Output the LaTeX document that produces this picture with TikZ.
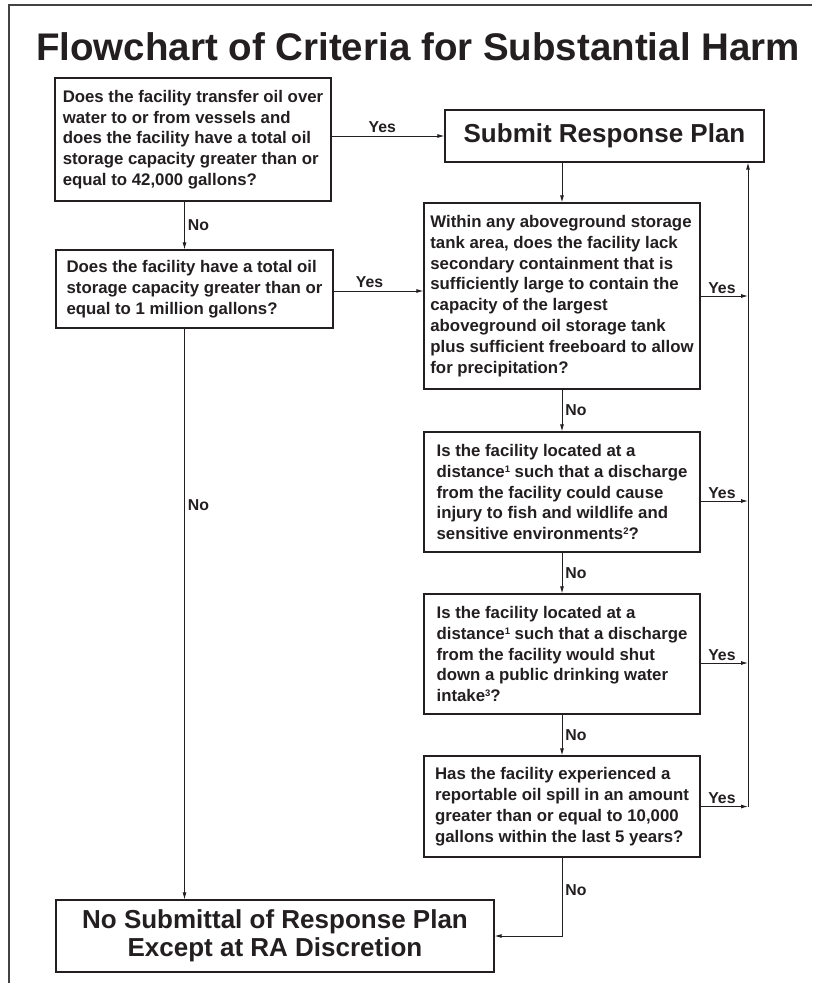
\documentclass[tikz,border=0pt]{standalone}
\usepackage{fontspec}
\setmainfont{Liberation Sans}
\usetikzlibrary{arrows.meta,calc}
\definecolor{ink}{HTML}{231F20}
\newcommand{\fnsup}[1]{\raisebox{5.2pt}{\fontsize{9.5}{10}\selectfont #1}}
\begin{document}
\begin{tikzpicture}[x=1pt,y=-1pt, color=ink,
  box/.style={draw=ink, line width=1.2pt, inner sep=0pt, align=left, text=ink,
    font=\fontsize{16.8}{20.8}\selectfont\bfseries},
  big/.style={draw=ink, line width=1.2pt, inner sep=0pt, align=center, text=ink,
    font=\fontsize{26}{28}\selectfont\bfseries},
  arr/.style={draw=ink, line width=0.9pt, -{Latex[length=7pt,width=4pt]}},
  lab/.style={font=\fontsize{15.8}{18}\selectfont\bfseries, inner sep=0pt, text=ink},
]
\useasboundingbox (0,0) rectangle (812,985);
\fill[white] (0,0) rectangle (812,985);
\draw[line width=1.5pt, draw=ink!85] (812,5) -- (9,5) -- (9,983);

\node[font=\fontsize{38.5}{40}\selectfont\bfseries, text=ink] (title) at (418,47) {Flowchart of Criteria for Substantial Harm};

\node[box, minimum width=276pt, minimum height=123pt] (q1) at (193,139.5)
 {Does the facility transfer oil over\\water to or from vessels and\\does the facility have a total oil\\storage capacity greater than or\\equal to 42,000 gallons?};
\node[box, minimum width=277pt, minimum height=78pt] (q2) at (194.5,289)
 {Does the facility have a total oil\\storage capacity greater than or\\equal to 1 million gallons?};
\node[big, minimum width=319pt, minimum height=52pt] (submit) at (604.5,136) {Submit Response Plan};
\node[box, minimum width=276pt, minimum height=186pt] (q3) at (562,296)
 {Within any aboveground storage\\tank area, does the facility lack\\secondary containment that is\\sufficiently large to contain the\\capacity of the largest\\aboveground oil storage tank\\plus sufficient freeboard to allow\\for precipitation?};
\node[box, minimum width=276pt, minimum height=120pt] (q4) at (562,492)
 {Is the facility located at a\\distance\fnsup{1} such that a discharge\\from the facility could cause\\injury to fish and wildlife and\\sensitive environments\fnsup{2}?};
\node[box, minimum width=276pt, minimum height=120pt] (q5) at (562,654)
 {Is the facility located at a\\distance\fnsup{1} such that a discharge\\from the facility would shut\\down a public drinking water\\intake\fnsup{3}?};
\node[box, minimum width=276pt, minimum height=101pt] (q6) at (562,806.5)
 {Has the facility experienced a\\reportable oil spill in an amount\\greater than or equal to 10,000\\gallons within the last 5 years?};
\node[big, minimum width=438pt, minimum height=72pt] (final) at (275,936)
 {No Submittal of Response Plan\\Except at RA Discretion};

\coordinate (lx) at (184.5,0);
\coordinate (rx) at (748,0);
\coordinate (y2) at (0,291);

\draw[arr] (q1.east |- submit.west) -- node[lab, pos=0.45, above=3pt] {Yes} (submit.west);
\draw[arr] (q1.south -| lx) -- node[lab, midway, right=3pt] {No} (q2.north -| lx);
\draw[arr] (q2.east |- y2) -- node[lab, pos=0.4, above=3pt] {Yes} (q3.west |- y2);
\draw[arr] (q2.south -| lx) -- node[lab, pos=0.31, right=3pt] {No} (final.north -| lx);
\draw[arr] (submit.south -| q3.north) -- (q3.north);
\draw[arr] (q3.south) -- node[lab, midway, right=3pt] {No} (q4.north);
\draw[arr] (q4.south) -- node[lab, midway, right=3pt] {No} (q5.north);
\draw[arr] (q5.south) -- node[lab, midway, right=3pt] {No} (q6.north);
\draw[arr] (q6.south) |- node[lab, pos=0.21, right=3pt] {No} (final.east);

\draw[arr] (q3.east) -- node[lab, pos=0.45, above=2pt] {Yes} (q3.east -| rx);
\draw[arr] ([yshift=-9pt]q4.east) -- node[lab, pos=0.45, above=2pt] {Yes} ([yshift=-9pt]q4.east -| rx);
\draw[arr] ([yshift=-9pt]q5.east) -- node[lab, pos=0.45, above=2pt] {Yes} ([yshift=-9pt]q5.east -| rx);
\draw[arr] (q6.east) -- node[lab, pos=0.45, above=2pt] {Yes} (q6.east -| rx);
\draw[arr] (q6.east -| rx) -- (submit.south -| rx);
\end{tikzpicture}
\end{document}
